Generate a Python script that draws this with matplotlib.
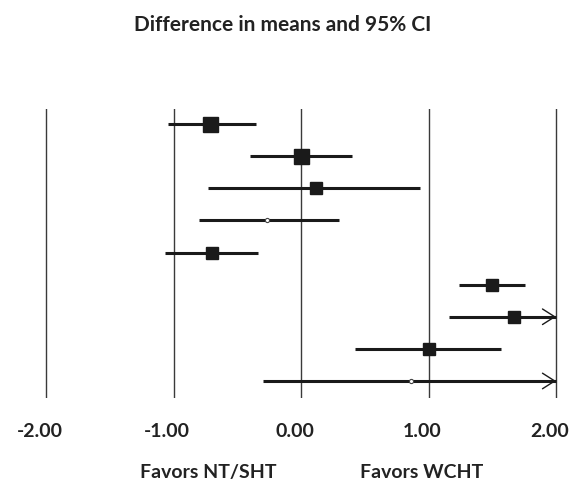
import matplotlib
matplotlib.use("Agg")
import matplotlib.pyplot as plt
import numpy as np

# mean differences and 95% CI limits, one row per comparison (top to bottom)
estimates = [-0.71, 0.00, 0.12, -0.27, -0.70, 1.50, 1.67, 1.00, 0.86]
ci_low = [-1.04, -0.40, -0.73, -0.80, -1.07, 1.24, 1.16, 0.42, -0.30]
ci_high = [-0.35, 0.40, 0.93, 0.30, -0.34, 1.76, 2.20, 1.57, 2.30]
tick_values = [-2.0, -1.0, 0.0, 1.0, 2.0]

# marker size per row (px); rows with 0 get the small hollow dot
marker_px = [15, 15, 12, 0, 12, 12, 12, 12, 0]

plt.rcParams["font.family"] = ["Lato", "DejaVu Sans"]
ink = "#1a1a1a"
x_max = 2.0

fig = plt.figure(figsize=(5.71, 4.87), dpi=100)
ax = fig.add_axes([0, 89 / 487, 1, 289 / 487])
ax.set_xlim(-301 / 127.5, 270 / 127.5)
ax.set_ylim(9.53, 0.53)
ax.axis("off")

for v in tick_values:
    ax.axvline(v, color="#3a3a3a", lw=1.0, zorder=1)

rows = np.arange(1, len(estimates) + 1)
for y, est, lo, hi, ms in zip(rows, estimates, ci_low, ci_high, marker_px):
    ax.plot([lo, min(hi, x_max)], [y, y], color=ink, lw=2.2, solid_capstyle="butt", zorder=2)
    if hi > x_max:
        # interval runs past the axis: thin open arrowhead at the edge
        ax.annotate("", xy=(x_max, y), xytext=(x_max - 0.2, y),
                    arrowprops=dict(arrowstyle="->,head_length=0.55,head_width=0.35",
                                    lw=1.0, color=ink, mutation_scale=16,
                                    shrinkA=0, shrinkB=0),
                    zorder=2)
    if ms:
        ax.plot(est, y, marker="s", ms=ms * 0.72, color=ink, zorder=3)
    else:
        ax.plot(est, y, marker="o", ms=3, mfc="white", mec="#444444", mew=0.8, zorder=3)

# value labels under the lines
for v in tick_values:
    ax.text(v - 0.05, -39 / 289, f"{v:.2f}", transform=ax.get_xaxis_transform(),
            ha="center", va="baseline", fontsize=14, fontweight="bold", color="#222222")

fig.text(283 / 571, 1 - 31 / 487, "Difference in means and 95% CI", ha="center",
         va="baseline", fontsize=15, fontweight="bold", color="#222222")
fig.text(208 / 571, 1 - 478 / 487, "Favors NT/SHT", ha="center", va="baseline",
         fontsize=14, fontweight="bold", color="#222222")
fig.text(422 / 571, 1 - 478 / 487, "Favors WCHT", ha="center", va="baseline",
         fontsize=14, fontweight="bold", color="#222222")

fig.savefig("out.png", dpi=100, facecolor="white")
